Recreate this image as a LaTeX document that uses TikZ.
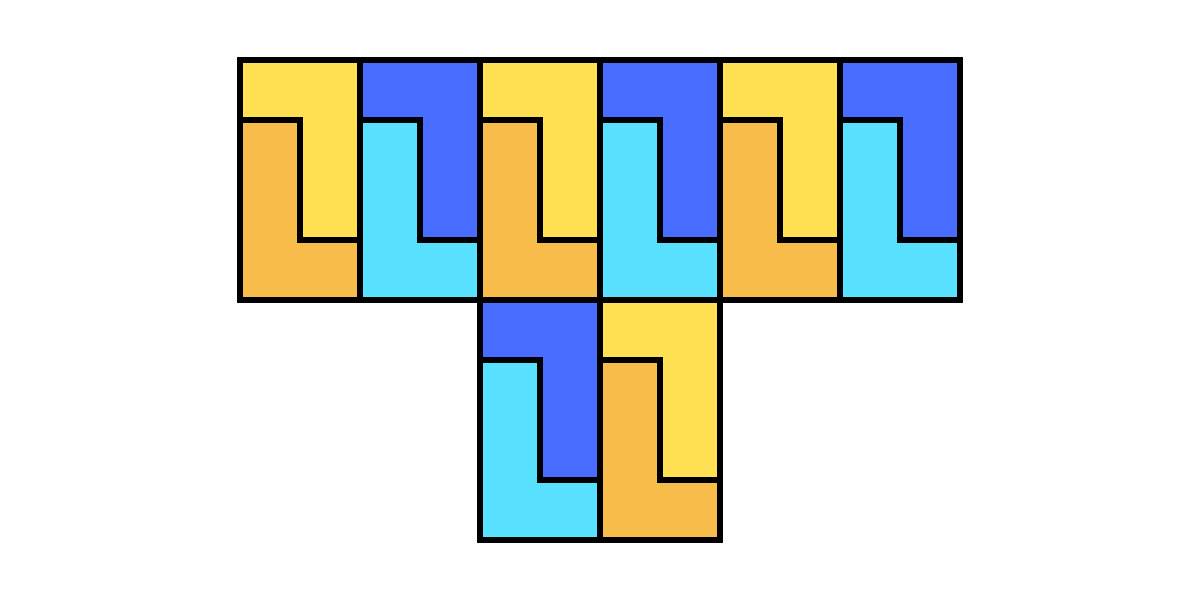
\documentclass[tikz,border=0pt]{standalone}
\definecolor{cyel}{RGB}{255,224,82}
\definecolor{corg}{RGB}{248,188,74}
\definecolor{cblu}{RGB}{71,108,255}
\definecolor{ccya}{RGB}{87,225,255}
\tikzset{piece/.style={draw=black,line width=6pt,line join=miter}}
\newcommand{\tile}[4]{%
  % #1,#2 top-left; #3 top colour; #4 bottom colour
  \begin{scope}[shift={(#1,#2)}]
    \fill[#3] (0,0) -- (120,0) -- (120,180) -- (60,180) -- (60,60) -- (0,60) -- cycle;
    \fill[#4] (0,60) -- (60,60) -- (60,180) -- (120,180) -- (120,240) -- (0,240) -- cycle;
    \draw[piece] (0,0) rectangle (120,240);
    \draw[piece] (0,60) -- (60,60) -- (60,180) -- (120,180);
  \end{scope}}
\begin{document}
\begin{tikzpicture}[x=1pt,y=-1pt]
\useasboundingbox (0,0) rectangle (1200,598);
\tile{240}{60}{cyel}{corg}
\tile{360}{60}{cblu}{ccya}
\tile{480}{60}{cyel}{corg}
\tile{600}{60}{cblu}{ccya}
\tile{720}{60}{cyel}{corg}
\tile{840}{60}{cblu}{ccya}
\tile{480}{300}{cblu}{ccya}
\tile{600}{300}{cyel}{corg}
\draw[piece] (240,60) -- (960,60) -- (960,300) -- (720,300) -- (720,540) -- (480,540) -- (480,300) -- (240,300) -- cycle;
\end{tikzpicture}
\end{document}
